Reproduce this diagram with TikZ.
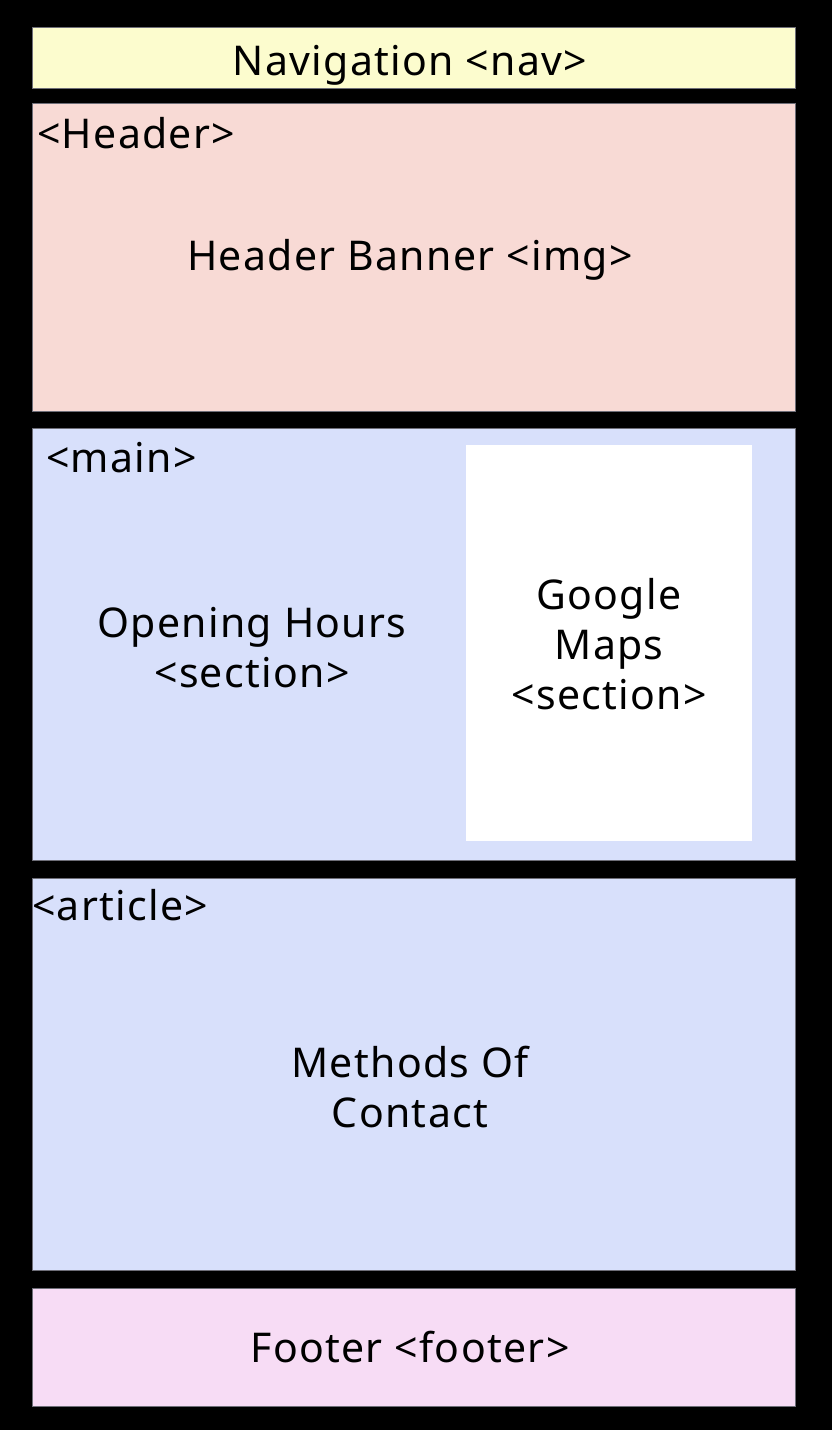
\documentclass[tikz,border=0pt]{standalone}
\usepackage{fontspec}
\setmainfont{Noto Sans}[LetterSpace=3.2]
\definecolor{navfill}{RGB}{252,252,206}
\definecolor{headfill}{RGB}{248,218,213}
\definecolor{mainfill}{RGB}{216,224,251}
\definecolor{footfill}{RGB}{247,220,245}
\definecolor{edge}{RGB}{110,110,120}
\begin{document}
\begin{tikzpicture}[x=1pt,y=-1pt,
  region/.style={draw=edge,line width=0.8pt,inner sep=0pt,outer sep=0pt,anchor=north west},
  label/.style={inner sep=0pt,text=black,font=\fontsize{41}{50}\selectfont,align=center,anchor=base},
  tag/.style={inner sep=0pt,text=black,font=\fontsize{41}{50}\selectfont,anchor=base west}]
% page background
\fill[black] (0,0) rectangle (832,1430);
\useasboundingbox (0,0) rectangle (832,1430);
% page regions
\node[region,fill=navfill,minimum width=763pt,minimum height=61pt] (nav) at (32,27) {};
\node[region,fill=headfill,minimum width=763pt,minimum height=308pt] (header) at (32,103) {};
\node[region,fill=mainfill,minimum width=763pt,minimum height=432pt] (main) at (32,428) {};
\node[region,fill=white,draw=none,minimum width=286pt,minimum height=396pt] (maps) at (466,445) {};
\node[region,fill=mainfill,minimum width=763pt,minimum height=392pt] (article) at (32,878) {};
\node[region,fill=footfill,minimum width=763pt,minimum height=118pt] (footer) at (32,1288) {};
% element tags
\node[tag] (headertag) at (37,148) {<Header>};
\node[tag] (maintag) at (46,472) {<main>};
\node[tag] (articletag) at (32,920) {<article>};
% centred labels (base = baseline of the last line)
\node[label] (navlabel) at (410,75) {Navigation <nav>};
\node[label] (bannerlabel) at (410,270) {Header Banner <img>};
\node[label] (hourslabel) at (252,687) {Opening Hours\\<section>};
\node[label] (mapslabel) at (609,709) {Google\\Maps\\<section>};
\node[label] (contactlabel) at (410,1127) {Methods Of\\Contact};
\node[label] (footerlabel) at (410,1362) {Footer <footer>};
\end{tikzpicture}
\end{document}
